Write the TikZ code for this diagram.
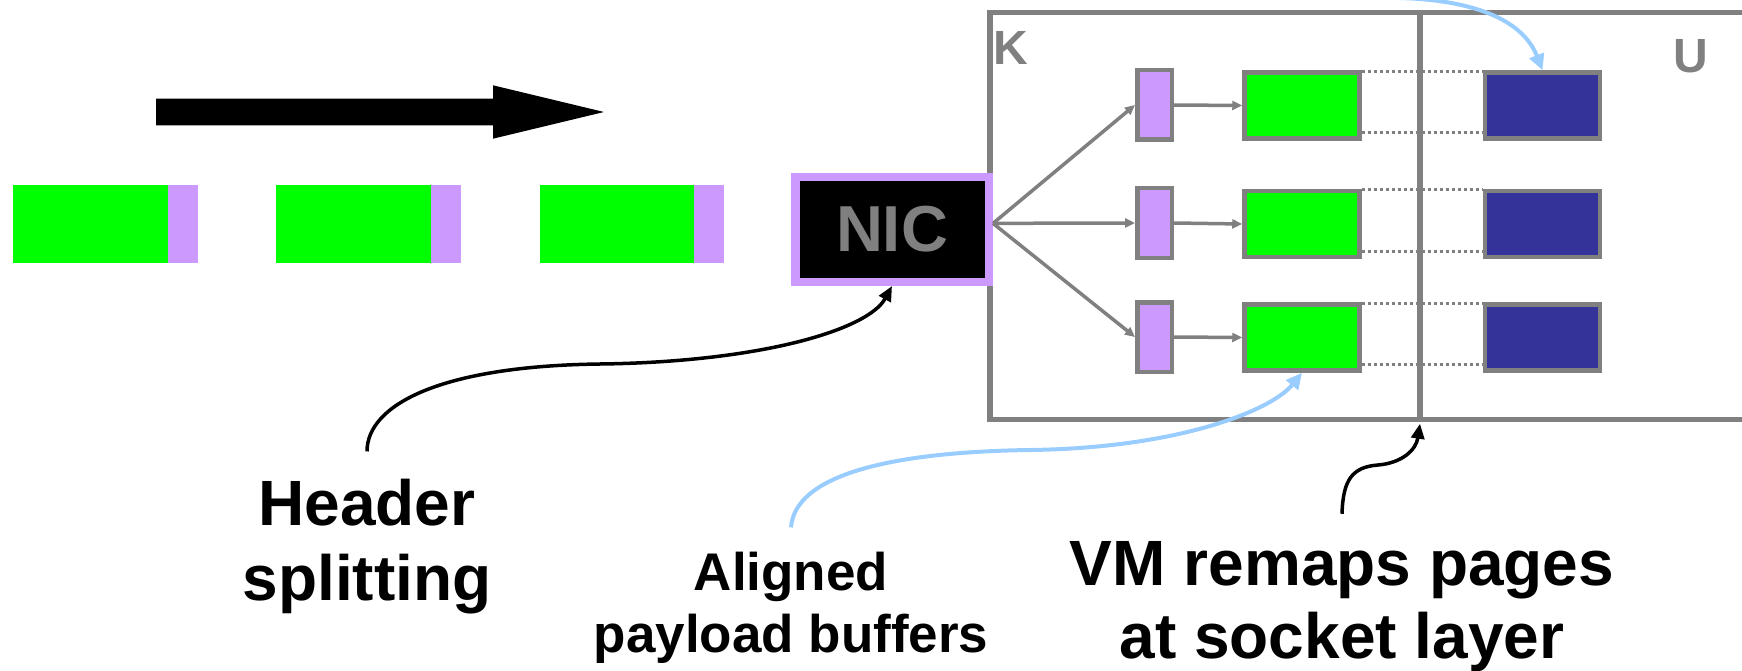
\documentclass[tikz,border=0pt]{standalone}
\usepackage{fontspec}
\setmainfont{Liberation Sans}
\usetikzlibrary{arrows.meta}
\definecolor{pktgreen}{RGB}{0,255,0}
\definecolor{hdrpurple}{RGB}{204,153,255}
\definecolor{userblue}{RGB}{51,51,153}
\definecolor{frgray}{RGB}{128,128,128}
\definecolor{ltblue}{RGB}{153,204,255}
\begin{document}
\begin{tikzpicture}[x=1pt,y=-1pt,
  framebox/.style={draw=frgray,line width=5.5pt,inner sep=0pt,outer sep=0pt,minimum height=407pt},
  hdrbox/.style={draw=frgray,fill=hdrpurple,line width=4.5pt,inner sep=0pt,minimum width=34.5pt,minimum height=69.5pt},
  grnbox/.style={draw=frgray,fill=pktgreen,line width=4.5pt,inner sep=0pt,minimum width=115pt,minimum height=66pt},
  bluebox/.style={draw=frgray,fill=userblue,line width=4.5pt,inner sep=0pt,minimum width=115pt,minimum height=66pt},
  grayarrow/.style={draw=frgray,line width=3.5pt,-{Triangle[length=10pt,width=9pt]}},
  dotline/.style={draw=frgray,line width=3pt,dash pattern=on 3pt off 3pt},
  blkcurve/.style={draw=black,line width=3.5pt,-{Triangle[length=15pt,width=13pt]}},
  bluecurve/.style={draw=ltblue,line width=4pt,-{Triangle[length=16pt,width=15pt]}},
  biglabel/.style={font=\fontsize{64}{75}\selectfont\bfseries,inner sep=0pt,anchor=base},
  midlabel/.style={font=\fontsize{53}{62}\selectfont\bfseries,inner sep=0pt,anchor=base},
  sidelabel/.style={font=\fontsize{48}{56}\selectfont\bfseries,text=frgray,inner sep=0pt}]
\useasboundingbox (0,0) rectangle (1742,671);

% direction arrow
\fill[black] (156,98.7) -- (493,98.7) -- (493,85.3) -- (604,112) -- (493,138.7) -- (493,125.3) -- (156,125.3) -- cycle;

% packets
\fill[pktgreen] (13,185) rectangle (168,262.7);
\fill[hdrpurple] (168,185) rectangle (198,262.7);
\fill[pktgreen] (276,185) rectangle (431,262.7);
\fill[hdrpurple] (431,185) rectangle (461,262.7);
\fill[pktgreen] (540,185) rectangle (694,262.7);
\fill[hdrpurple] (694,185) rectangle (724,262.7);

% kernel / user frames
\node[framebox,minimum width=430pt] (kside) at (1205,216.2) {};
\node[framebox,minimum width=350pt] (uside) at (1595,216.2) {};
\node[sidelabel,anchor=base west] (klbl) at (993.5,65) {K};
\node[sidelabel,anchor=base] (ulbl) at (1691,72.5) {U};

% NIC
\node[draw=hdrpurple,fill=black,line width=8.5pt,inner sep=0pt,minimum width=193.5pt,minimum height=104.8pt,text=frgray,font=\fontsize{65}{78}\selectfont\bfseries] (nic) at (892,229.35) {NIC};

% headers, payloads, user pages
\node[hdrbox] (h1) at (1154.5,105) {};
\node[hdrbox] (h2) at (1154.5,223) {};
\node[hdrbox] (h3) at (1154.5,337) {};
\node[grnbox] (g1) at (1302,105.5) {};
\node[grnbox] (g2) at (1302,224) {};
\node[grnbox] (g3) at (1302,337.5) {};
\node[bluebox] (b1) at (1542.5,105.5) {};
\node[bluebox] (b2) at (1542.5,224) {};
\node[bluebox] (b3) at (1542.5,337.5) {};

% dotted mapping lines
\foreach \i in {1,2,3}{
  \draw[dotline] ([yshift=-1pt]g\i.north east) -- ([yshift=-1pt]b\i.north west);
  \draw[dotline] ([yshift=8pt]g\i.south east) -- ([yshift=8pt]b\i.south west);
}
% divider redrawn over dotted lines
\draw[draw=frgray,line width=5.5pt] (kside.north east) -- (kside.south east);

% arrows
\draw[grayarrow] ([yshift=6pt]nic.east) -- (h1.west);
\draw[grayarrow] ([yshift=6pt]nic.east) -- (h2.west);
\draw[grayarrow] ([yshift=6pt]nic.east) -- (h3.west);
\draw[grayarrow] (h1.east) -- (g1.west);
\draw[grayarrow] (h2.east) -- (g2.west);
\draw[grayarrow] (h3.east) -- (g3.west);

% labels
\node[biglabel] (hs1) at (367,525) {Header};
\node[biglabel] (hs2) at (367,600) {splitting};
\node[midlabel] (al1) at (791,590) {Aligned};
\node[midlabel] (al2) at (791,652) {payload buffers};
\node[biglabel] (vm1) at (1342,585) {VM remaps pages};
\node[biglabel] (vm2) at (1342,658) {at socket layer};

% callout curves
\draw[blkcurve] ([yshift=27pt]hs1.north) .. controls (367,405) and (440,366) .. (600,364) .. controls (760,362) and (868,330) .. (nic.south);
\draw[bluecurve] ([yshift=24pt]al1.north) .. controls (795,475) and (890,452) .. (1030,450) .. controls (1180,448) and (1272,410) .. (g3.south);
\draw[blkcurve] ([yshift=27pt]vm1.north) .. controls (1343,480) and (1352,467) .. (1378,465) .. controls (1402,463) and (1416,450) .. ([yshift=-4pt]kside.south east);
\coordinate (topsrc) at (1400,-2);
\draw[bluecurve] (topsrc) .. controls (1470,0) and (1522,18) .. (b1.north);
\end{tikzpicture}
\end{document}
